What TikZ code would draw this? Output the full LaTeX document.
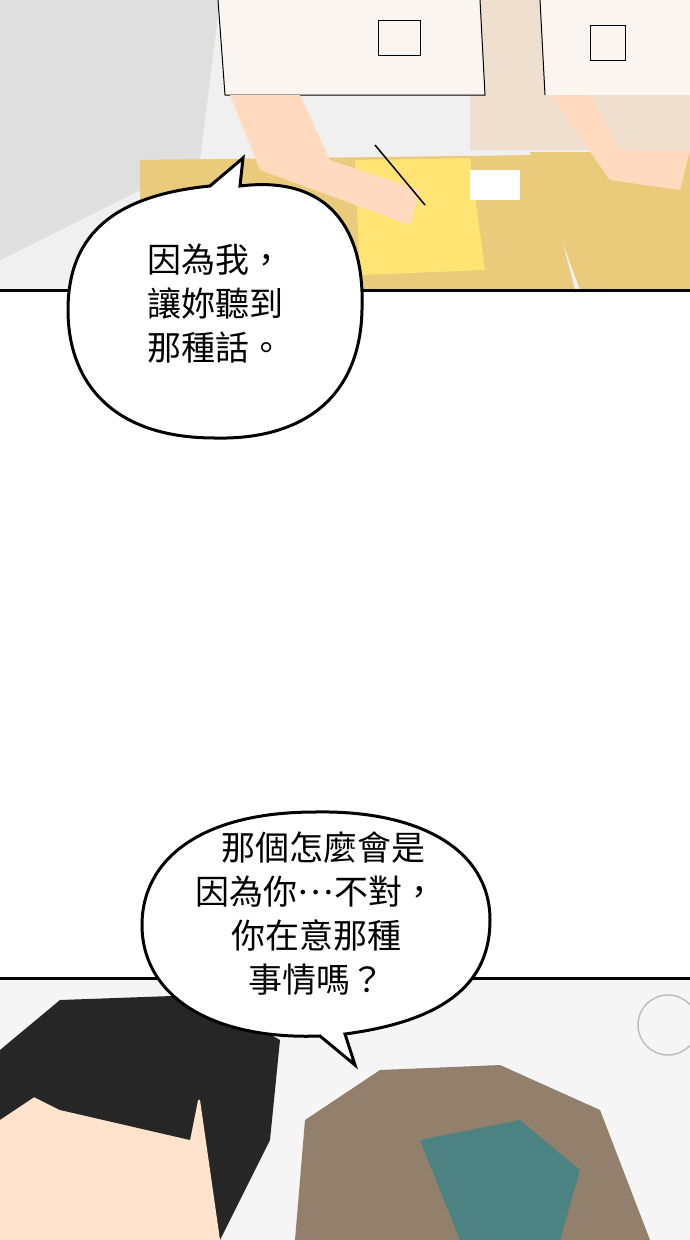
\documentclass[tikz,border=0pt]{standalone}
\usepackage{fontspec}
\newfontfamily\cjk{Noto Sans CJK TC}
\begin{document}
\begin{tikzpicture}[x=1pt,y=-1pt,
  bubble/.style={draw=black,line width=3pt,fill=white},
  btext/.style={font=\cjk\fontsize{34}{46}\selectfont,align=center,text=black},
  panelline/.style={line width=3pt,black}]
\useasboundingbox (0,0) rectangle (690,1240);
\fill[white] (0,0) rectangle (690,1240);
% ---- top panel ----
\fill[gray!12] (0,0) rectangle (690,290);
\fill[gray!25] (0,0) -- (220,0) -- (200,160) -- (0,260) -- cycle;
\fill[brown!25] (470,0) rectangle (690,150);
\fill[orange!30!yellow!45!brown!60] (140,160) -- (540,155) -- (575,290) -- (140,290) -- cycle;
\fill[orange!40!yellow!55] (355,160) -- (470,158) -- (485,270) -- (360,275) -- cycle;
\fill[orange!30!yellow!45!brown!60] (530,152) -- (690,152) -- (690,290) -- (580,290) -- cycle;
\fill[white!92!brown] (218,0) -- (480,0) -- (485,95) -- (225,95) -- cycle;
\draw[black,line width=1pt] (218,0) -- (225,95) -- (485,95) -- (480,0);
\fill[white!92!brown] (540,0) -- (690,0) -- (690,95) -- (545,95) -- cycle;
\draw[black,line width=1pt] (540,0) -- (545,95);
\fill[red!15!orange!25] (230,95) -- (260,170) -- (410,225) -- (420,190) -- (330,160) -- (300,95) -- cycle;
\fill[red!15!orange!25] (550,95) -- (610,180) -- (680,190) -- (690,150) -- (620,150) -- (590,95) -- cycle;
\draw[black] (378,20) rectangle (420,55);
\draw[black] (590,25) rectangle (625,60);
\fill[white] (470,170) rectangle (520,200);
\draw[line width=1.5pt] (375,145) -- (425,205);
\draw[panelline] (0,290) -- (690,290);
% ---- bottom panel ----
\fill[gray!8] (0,978) rectangle (690,1240);
\draw[gray!50,line width=1.5pt] (668,1025) circle (30);
\fill[black!85] (0,1050) -- (60,1000) -- (200,995) -- (280,1040) -- (270,1140) -- (220,1240) -- (0,1240) -- cycle;
\fill[red!10!orange!20] (0,1120) -- (60,1080) -- (200,1100) -- (220,1240) -- (0,1240) -- cycle;
\fill[black!85] (0,1080) -- (120,1060) -- (200,1090) -- (190,1140) -- (60,1110) -- cycle;
\fill[gray!70!brown] (295,1240) -- (305,1120) -- (380,1070) -- (500,1065) -- (600,1110) -- (650,1240) -- cycle;
\fill[teal!60!black!70] (420,1140) -- (520,1120) -- (580,1170) -- (560,1240) -- (460,1240) -- cycle;
\draw[panelline] (0,978) -- (690,978);
% ---- bubbles ----
\draw[bubble] (210,186) -- (243,158) -- (240,186)
  .. controls (330,175) and (365,230) .. (362,310)
  .. controls (360,400) and (300,440) .. (215,438)
  .. controls (110,438) and (68,380) .. (68,310)
  .. controls (68,230) and (120,195) .. (210,186) -- cycle;
\node[btext,anchor=north west] (t1) at (144,240) {因為我，\\[-2pt]讓妳聽到\\[-2pt]那種話。};
\draw[bubble] (320,1036) -- (355,1065) -- (345,1034)
  .. controls (450,1020) and (490,980) .. (490,920)
  .. controls (490,850) and (420,810) .. (315,812)
  .. controls (200,812) and (142,860) .. (142,925)
  .. controls (142,995) and (210,1040) .. (320,1036) -- cycle;
\node[btext] (t2) at (316,914) {\hspace*{14pt}那個怎麼會是\\[-2pt]因為你\raisebox{0.3em}{…}不對，\\[-2pt]你在意那種\\[-2pt]事情嗎？};
\end{tikzpicture}
\end{document}
